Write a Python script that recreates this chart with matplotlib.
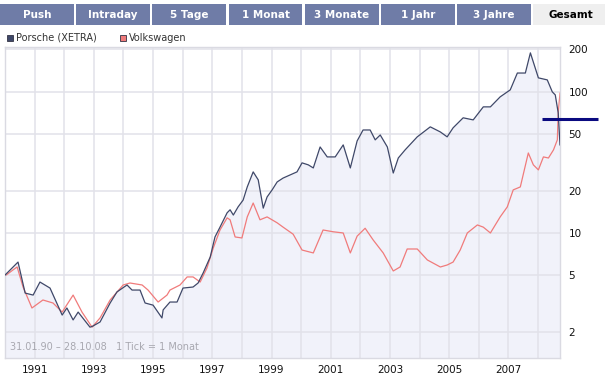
import matplotlib
matplotlib.use("Agg")
import matplotlib.pyplot as plt
from matplotlib.patches import Rectangle
from matplotlib.ticker import FixedLocator, FixedFormatter, NullLocator

# ------------------------------------------------------------
# Daten (normiert, log-Skala)
# ------------------------------------------------------------
porsche_t = [1990.08, 1990.52, 1990.76, 1991.03, 1991.26, 1991.60, 1992.01, 1992.17,
             1992.38, 1992.55, 1992.95, 1993.05, 1993.29, 1993.63, 1993.86, 1994.20,
             1994.37, 1994.64, 1994.81, 1995.08, 1995.38, 1995.42, 1995.65, 1995.89,
             1996.09, 1996.43, 1996.60, 1996.77, 1997.01, 1997.17, 1997.34, 1997.58,
             1997.68, 1997.79, 1997.95, 1998.12, 1998.26, 1998.46, 1998.63, 1998.80,
             1998.93, 1999.10, 1999.27, 1999.47, 1999.71, 1999.94, 2000.11, 2000.32,
             2000.49, 2000.72, 2000.96, 2001.23, 2001.50, 2001.74, 2001.97, 2002.17,
             2002.41, 2002.58, 2002.75, 2002.99, 2003.19, 2003.36, 2003.59, 2004.00,
             2004.44, 2004.78, 2005.01, 2005.21, 2005.55, 2005.89, 2006.23, 2006.47,
             2006.80, 2007.14, 2007.38, 2007.65, 2007.82, 2008.09, 2008.39, 2008.56,
             2008.66, 2008.76, 2008.82]
porsche_v = [5.03, 6.22, 3.75, 3.63, 4.49, 4.07, 2.62, 2.94,
             2.42, 2.75, 2.15, 2.19, 2.34, 3.19, 3.82, 4.28,
             3.94, 3.94, 3.19, 3.08, 2.50, 2.85, 3.24, 3.24,
             4.07, 4.14, 4.42, 5.20, 6.76, 9.37, 11.0, 13.9,
             14.6, 13.4, 15.3, 17.1, 21.2, 27.1, 23.8, 15.0,
             18.0, 20.2, 23.0, 24.5, 25.8, 27.1, 31.4, 30.4,
             28.9, 40.7, 34.6, 34.6, 42.1, 28.9, 44.9, 53.7,
             53.7, 45.7, 49.5, 40.7, 26.6, 34.0, 38.8, 48.0,
             56.5, 52.0, 48.0, 55.6, 65.5, 63.3, 78.3, 78.3,
             92.2, 103.3, 136.0, 136.0, 189.0, 125.7, 121.6, 100.0,
             95.2, 71.0, 42.1]

vw_t = [1990.08, 1990.35, 1990.49, 1990.69, 1990.99, 1991.36, 1991.70, 1992.01,
        1992.38, 1992.68, 1993.02, 1993.29, 1993.63, 1994.07, 1994.30, 1994.71,
        1994.91, 1995.25, 1995.55, 1995.65, 1995.99, 1996.23, 1996.43, 1996.67,
        1996.90, 1997.11, 1997.34, 1997.58, 1997.68, 1997.85, 1998.08, 1998.26,
        1998.46, 1998.69, 1998.93, 1999.27, 1999.47, 1999.81, 2000.11, 2000.49,
        2000.82, 2001.16, 2001.50, 2001.74, 2001.97, 2002.24, 2002.51, 2002.85,
        2003.19, 2003.42, 2003.66, 2004.00, 2004.34, 2004.78, 2005.01, 2005.21,
        2005.45, 2005.69, 2006.03, 2006.23, 2006.47, 2006.80, 2007.04, 2007.24,
        2007.48, 2007.75, 2007.92, 2008.09, 2008.26, 2008.43, 2008.60, 2008.73,
        2008.76, 2008.82]
vw_v = [4.96, 5.47, 5.74, 4.14, 2.94, 3.35, 3.19, 2.75,
        3.63, 2.75, 2.15, 2.50, 3.35, 4.28, 4.42, 4.28,
        3.94, 3.24, 3.63, 3.94, 4.28, 4.88, 4.88, 4.49,
        5.65, 7.80, 10.5, 12.8, 12.4, 9.37, 9.22, 13.0,
        16.3, 12.4, 13.0, 11.8, 11.0, 9.8, 7.57, 7.22,
        10.5, 10.2, 10.0, 7.22, 9.5, 10.8, 8.93, 7.22,
        5.38, 5.74, 7.70, 7.70, 6.44, 5.74, 5.93, 6.22,
        7.57, 10.0, 11.4, 11.0, 10.0, 13.0, 15.3, 20.2,
        21.2, 36.9, 30.4, 28.0, 34.6, 34.0, 38.8, 45.7,
        71.0, 98.0]

kurs_marke = 64.0  # aktueller Kurs (dunkelblaue Linie)

jahre = [1991, 1993, 1995, 1997, 1999, 2001, 2003, 2005, 2007]
y_ticks = [2, 5, 10, 20, 50, 100, 200]
tabs = ["Push", "Intraday", "5 Tage", "1 Monat", "3 Monate", "1 Jahr", "3 Jahre", "Gesamt"]
legende = ["Porsche (XETRA)", "Volkswagen"]
zeitraum = "31.01.90 \u2013 28.10.08   1 Tick = 1 Monat"

c_porsche = "#3f4869"
c_vw = "#f07b7b"
c_tab = "#6f7ca7"
c_grid = "#e2e2ea"

# ------------------------------------------------------------
# Figur
# ------------------------------------------------------------
W, H = 605, 376
fig = plt.figure(figsize=(W / 100, H / 100), dpi=100)
fig.patch.set_facecolor("white")

ax = fig.add_axes([5 / W, 1 - 358 / H, 555 / W, 311 / H])
ax.set_yscale("log")
ax.set_xlim(1990.08, 2008.82)
ax.set_ylim(1.30, 208)

ax.fill_between(porsche_t, porsche_v, 1.0, color="#f1f2fa", lw=0, zorder=0.3)
ax.plot(porsche_t, porsche_v, color=c_porsche, lw=0.9, zorder=3)
ax.plot(vw_t, vw_v, color=c_vw, lw=0.9, zorder=2)

# Gitter
ax.set_axisbelow(True)
ax.xaxis.set_major_locator(FixedLocator([j + 0.08 for j in jahre]))
ax.xaxis.set_major_formatter(FixedFormatter([str(j) for j in jahre]))
ax.xaxis.set_minor_locator(FixedLocator([j + 0.08 for j in range(1990, 2009)]))
ax.yaxis.set_major_locator(FixedLocator(y_ticks))
ax.yaxis.set_major_formatter(FixedFormatter([str(v) for v in y_ticks]))
ax.yaxis.set_minor_locator(NullLocator())
ax.grid(True, which="both", axis="x", color=c_grid, lw=1.1)
ax.grid(True, which="major", axis="y", color=c_grid, lw=1.1)
ax.yaxis.tick_right()
ax.tick_params(axis="both", which="both", length=0, labelsize=7.5, colors="#111111")
ax.tick_params(axis="x", pad=5)
ax.tick_params(axis="y", pad=6)
for s in ax.spines.values():
    s.set_color("#dadae2")
    s.set_linewidth(1.0)

ax.text(0.009, 0.035, zeitraum, transform=ax.transAxes, fontsize=7,
        color="#a8a8b0", ha="left", va="center")

# ------------------------------------------------------------
# Reiter, Legende und Kursmarke (Pixelkoordinaten)
# ------------------------------------------------------------
ui = fig.add_axes([0, 0, 1, 1], facecolor="none")
ui.set_xlim(0, W)
ui.set_ylim(H, 0)
ui.axis("off")

for i, name in enumerate(tabs):
    x0 = i * 76.2
    aktiv = name == "Gesamt"
    ui.add_patch(Rectangle((x0, 4), 73.8, 21, facecolor="#efefef" if aktiv else c_tab,
                           edgecolor="none"))
    ui.text(x0 + 37, 15, name, ha="center", va="center", fontsize=7.5,
            fontweight="bold", color="black" if aktiv else "white")

for x0, farbe, name in [(7, c_porsche, legende[0]), (120, c_vw, legende[1])]:
    ui.add_patch(Rectangle((x0, 35), 6, 6, facecolor=farbe, edgecolor="#333344", lw=0.6))
    ui.text(x0 + 9, 38, name, ha="left", va="center", fontsize=7, color="#333333")

# Kursmarke: über Datenkoordinate auf Pixel abbilden
y_px = H - ax.transData.transform((2008.0, kurs_marke))[1]
ui.plot([542, 598], [y_px, y_px], color="#0a0a80", lw=2.2, solid_capstyle="butt")

fig.savefig("out.png", dpi=100)
